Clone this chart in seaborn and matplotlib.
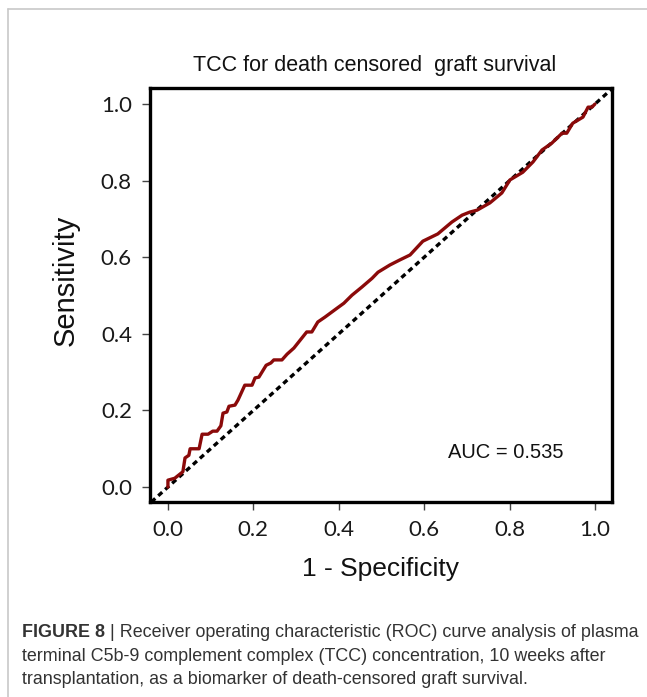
import numpy as np
import pandas as pd
import matplotlib
matplotlib.use("Agg")
import matplotlib.pyplot as plt
from matplotlib.lines import Line2D
import seaborn as sns

# ROC curve points (1 - specificity, sensitivity)
fpr = [0.000, 0.000, 0.016, 0.035, 0.040, 0.049, 0.052, 0.073, 0.080, 0.094,
       0.105, 0.115, 0.124, 0.129, 0.138, 0.143, 0.157, 0.164, 0.180, 0.197,
       0.204, 0.213, 0.230, 0.241, 0.248, 0.267, 0.279, 0.295, 0.325, 0.337,
       0.351, 0.368, 0.396, 0.412, 0.431, 0.454, 0.478, 0.492, 0.520, 0.543,
       0.567, 0.597, 0.632, 0.665, 0.689, 0.707, 0.724, 0.754, 0.782, 0.801,
       0.831, 0.855, 0.876, 0.899, 0.923, 0.934, 0.948, 0.960, 0.972, 0.984,
       0.993, 1.000]
tpr = [0.000, 0.018, 0.023, 0.040, 0.076, 0.083, 0.100, 0.100, 0.138, 0.138,
       0.146, 0.146, 0.160, 0.193, 0.196, 0.211, 0.214, 0.227, 0.266, 0.266,
       0.285, 0.287, 0.318, 0.324, 0.332, 0.332, 0.347, 0.363, 0.405, 0.405,
       0.431, 0.444, 0.467, 0.480, 0.501, 0.522, 0.545, 0.561, 0.580, 0.593,
       0.606, 0.642, 0.661, 0.692, 0.710, 0.718, 0.723, 0.742, 0.768, 0.802,
       0.822, 0.849, 0.880, 0.898, 0.924, 0.924, 0.950, 0.958, 0.966, 0.992,
       0.992, 1.000]
ticks = [0.0, 0.2, 0.4, 0.6, 0.8, 1.0]
tick_labels = ["0.0", "0.2", "0.4", "0.6", "0.8", "1.0"]
auc_text = "AUC = 0.535"
title = "TCC for death censored  graft survival"
caption_bold = "FIGURE 8"
caption_lines = [
    " | Receiver operating characteristic (ROC) curve analysis of plasma",
    "terminal C5b-9 complement complex (TCC) concentration, 10 weeks after",
    "transplantation, as a biomarker of death-censored graft survival.",
]

df = pd.DataFrame({"fpr": fpr, "tpr": tpr})

sns.set_style("ticks")
plt.rcParams["font.family"] = ["Liberation Sans", "DejaVu Sans"]

W, H = 647, 697
fig = plt.figure(figsize=(W / 100, H / 100), dpi=100)
ax = fig.add_axes([150 / W, 1 - 502 / H, 462 / W, 414 / H])

ax.axline((0, 0), slope=1, color="black", lw=2.4, ls=(0, (1.6, 1.2)), zorder=1)
sns.lineplot(data=df, x="fpr", y="tpr", sort=False, estimator=None,
             color="#8b0a0a", lw=2.4, ax=ax, zorder=2)

ax.set_xlim(-0.042, 1.04)
ax.set_ylim(-0.039, 1.042)
ax.set_xticks(ticks)
ax.set_yticks(ticks)
ax.set_xticklabels(tick_labels, family="Lato", fontsize=16, color="#1a1a1a")
ax.set_yticklabels(tick_labels, family="Lato", fontsize=16, color="#1a1a1a")
ax.tick_params(length=6, width=1.0, color="#444444", pad=7)
for s in ax.spines.values():
    s.set_linewidth(2.4)
    s.set_color("black")

ax.set_xlabel("1 - Specificity", fontsize=19, color="#111111", labelpad=12)
ax.set_ylabel("Sensitivity", fontsize=21, color="#111111")
ax.yaxis.set_label_coords(-0.152, 0.536)
ax.set_title(title, fontsize=15.5, color="#111111", pad=12, x=0.487)
ax.text(0.79, 0.091, auc_text, transform=ax.transData, fontsize=14.5,
        ha="center", va="center", color="#111111")

# thin border around the panel
fig.add_artist(Line2D([8 / W, 8 / W], [0, 1 - 9 / H], color="#c8c8c8", lw=1.2))
fig.add_artist(Line2D([8 / W, 1], [1 - 9 / H, 1 - 9 / H], color="#c8c8c8", lw=1.2))

# caption
x0 = 22 / W
fs = 12.85
t = fig.text(x0, 1 - 637 / H, caption_bold, fontsize=fs, weight="bold",
             color="#333333", va="baseline")
fig.canvas.draw()
bb = t.get_window_extent(renderer=fig.canvas.get_renderer())
fig.text(bb.x1 / W, 1 - 637 / H, caption_lines[0], fontsize=fs,
         color="#333333", va="baseline")
fig.text(x0, 1 - 661 / H, caption_lines[1], fontsize=fs, color="#333333", va="baseline")
fig.text(x0, 1 - 684 / H, caption_lines[2], fontsize=fs, color="#333333", va="baseline")

fig.savefig("out.png", dpi=100, facecolor="white")
